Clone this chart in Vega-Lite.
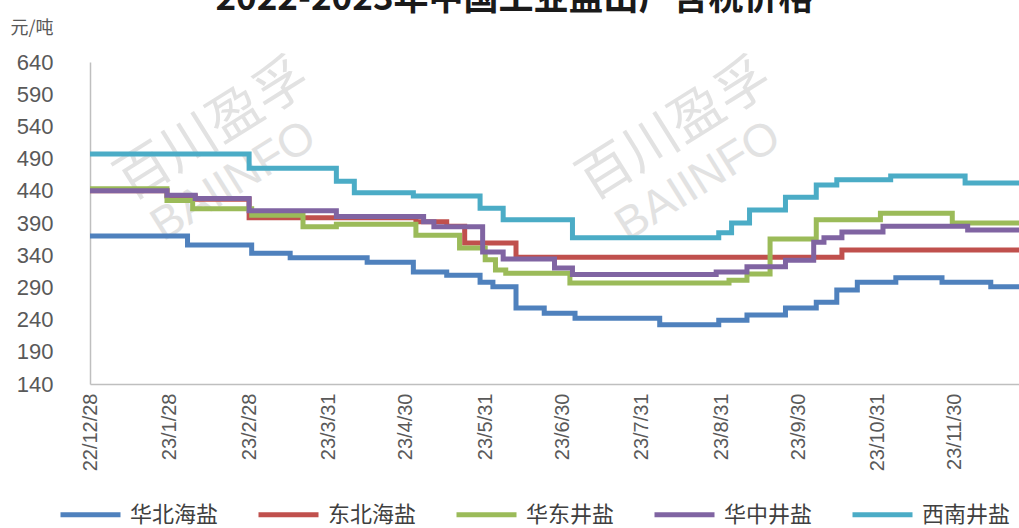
{
  "$schema": "https://vega.github.io/schema/vega-lite/v6.json",
  "width": 929,
  "height": 322,
  "autosize": "none",
  "padding": {"left": 90, "top": 62, "right": 0, "bottom": 144},
  "background": "white",
  "title": {"text": "2022-2023年中国工业盐出厂含税价格", "frame": "group", "anchor": "middle", "dx": -40, "offset": -26, "baseline": "alphabetic", "fontSize": 35, "font": "Noto Sans CJK SC", "fontWeight": "bold", "color": "#1a1a1a"},
  "config": {"view": {"stroke": null}},
  "encoding": {
    "x": {
      "field": "date", "type": "temporal",
      "scale": {"type": "utc", "nice": false, "domain": [{"year": 2022, "month": 12, "date": 28, "utc": true}, {"year": 2023, "month": 12, "date": 25, "utc": true}]},
      "axis": {
        "values": [
          {"year": 2022, "month": 12, "date": 28, "utc": true},
          {"year": 2023, "month": 1, "date": 28, "utc": true},
          {"year": 2023, "month": 2, "date": 28, "utc": true},
          {"year": 2023, "month": 3, "date": 31, "utc": true},
          {"year": 2023, "month": 4, "date": 30, "utc": true},
          {"year": 2023, "month": 5, "date": 31, "utc": true},
          {"year": 2023, "month": 6, "date": 30, "utc": true},
          {"year": 2023, "month": 7, "date": 31, "utc": true},
          {"year": 2023, "month": 8, "date": 31, "utc": true},
          {"year": 2023, "month": 9, "date": 30, "utc": true},
          {"year": 2023, "month": 10, "date": 31, "utc": true},
          {"year": 2023, "month": 11, "date": 30, "utc": true}
        ],
        "labelExpr": "utcFormat(datum.value, '%y/%-m/%-d')",
        "labelAngle": -90, "labelFont": "Liberation Sans", "labelFontSize": 20, "labelColor": "#595959",
        "labelPadding": 9, "ticks": false, "tickSize": 0, "grid": false,
        "domainColor": "#BFBFBF", "domainWidth": 1.5, "title": null,
        "labelFlush": false, "labelOverlap": false, "labelBound": false
      }
    },
    "y": {
      "field": "price", "type": "quantitative",
      "scale": {"domain": [140, 640], "nice": false, "zero": false},
      "axis": {
        "values": [140, 190, 240, 290, 340, 390, 440, 490, 540, 590, 640],
        "title": "元/吨", "titleAngle": 0, "titleX": -80, "titleY": -34, "titleAlign": "left", "titleBaseline": "middle",
        "titleFont": "Noto Sans CJK SC", "titleFontSize": 18, "titleFontWeight": "normal", "titleColor": "#595959",
        "labelFont": "Liberation Sans", "labelFontSize": 22, "labelColor": "#595959",
        "labelPadding": 37, "ticks": false, "tickSize": 0, "grid": false,
        "domainColor": "#BFBFBF", "domainWidth": 1.5, "labelFlush": false, "labelOverlap": false
      }
    }
  },
  "layer": [
    {
      "data": {"values": [
        {"date": "2023-02-14", "price": 534, "wm": "百川盈孚"},
        {"date": "2023-08-13", "price": 534, "wm": "百川盈孚"}
      ]},
      "mark": {"type": "text", "angle": -32, "font": "Noto Sans CJK SC", "fontSize": 54, "color": "#E2E2E2", "align": "center", "baseline": "middle"},
      "encoding": {"text": {"field": "wm"}}
    },
    {
      "data": {"values": [
        {"date": "2023-02-22", "price": 455, "wm": "BAIINFO"},
        {"date": "2023-08-22", "price": 455, "wm": "BAIINFO"}
      ]},
      "mark": {"type": "text", "angle": -32, "font": "Liberation Sans", "fontSize": 46, "color": "#E2E2E2", "align": "center", "baseline": "middle"},
      "encoding": {"text": {"field": "wm"}}
    },
    {
      "data": {"values": [
        {"date": "2022-12-28", "series": "华北海盐", "price": 370},
        {"date": "2023-02-04", "series": "华北海盐", "price": 356},
        {"date": "2023-03-01", "series": "华北海盐", "price": 343},
        {"date": "2023-03-16", "series": "华北海盐", "price": 336},
        {"date": "2023-04-15", "series": "华北海盐", "price": 329},
        {"date": "2023-05-03", "series": "华北海盐", "price": 314},
        {"date": "2023-05-16", "series": "华北海盐", "price": 309},
        {"date": "2023-05-29", "series": "华北海盐", "price": 298},
        {"date": "2023-06-03", "series": "华北海盐", "price": 291},
        {"date": "2023-06-12", "series": "华北海盐", "price": 258},
        {"date": "2023-06-23", "series": "华北海盐", "price": 250},
        {"date": "2023-07-05", "series": "华北海盐", "price": 242},
        {"date": "2023-08-07", "series": "华北海盐", "price": 232},
        {"date": "2023-08-30", "series": "华北海盐", "price": 239},
        {"date": "2023-09-10", "series": "华北海盐", "price": 247},
        {"date": "2023-09-25", "series": "华北海盐", "price": 258},
        {"date": "2023-10-07", "series": "华北海盐", "price": 267},
        {"date": "2023-10-15", "series": "华北海盐", "price": 286},
        {"date": "2023-10-23", "series": "华北海盐", "price": 298},
        {"date": "2023-11-07", "series": "华北海盐", "price": 305},
        {"date": "2023-11-25", "series": "华北海盐", "price": 298},
        {"date": "2023-12-14", "series": "华北海盐", "price": 291},
        {"date": "2023-12-25", "series": "华北海盐", "price": 291},
        {"date": "2022-12-28", "series": "东北海盐", "price": 440},
        {"date": "2023-01-27", "series": "东北海盐", "price": 432},
        {"date": "2023-02-07", "series": "东北海盐", "price": 427},
        {"date": "2023-02-28", "series": "东北海盐", "price": 398},
        {"date": "2023-05-04", "series": "东北海盐", "price": 392},
        {"date": "2023-05-16", "series": "东北海盐", "price": 385},
        {"date": "2023-05-23", "series": "东北海盐", "price": 359},
        {"date": "2023-06-12", "series": "东北海盐", "price": 337},
        {"date": "2023-10-17", "series": "东北海盐", "price": 348},
        {"date": "2023-12-25", "series": "东北海盐", "price": 348},
        {"date": "2022-12-28", "series": "华东井盐", "price": 443},
        {"date": "2023-01-27", "series": "华东井盐", "price": 425},
        {"date": "2023-02-06", "series": "华东井盐", "price": 412},
        {"date": "2023-03-01", "series": "华东井盐", "price": 402},
        {"date": "2023-03-21", "series": "华东井盐", "price": 384},
        {"date": "2023-04-03", "series": "华东井盐", "price": 388},
        {"date": "2023-05-04", "series": "华东井盐", "price": 371},
        {"date": "2023-05-21", "series": "华东井盐", "price": 351},
        {"date": "2023-05-31", "series": "华东井盐", "price": 333},
        {"date": "2023-06-04", "series": "华东井盐", "price": 317},
        {"date": "2023-06-08", "series": "华东井盐", "price": 312},
        {"date": "2023-07-03", "series": "华东井盐", "price": 297},
        {"date": "2023-09-03", "series": "华东井盐", "price": 301},
        {"date": "2023-09-10", "series": "华东井盐", "price": 311},
        {"date": "2023-09-19", "series": "华东井盐", "price": 365},
        {"date": "2023-10-07", "series": "华东井盐", "price": 395},
        {"date": "2023-11-01", "series": "华东井盐", "price": 405},
        {"date": "2023-11-29", "series": "华东井盐", "price": 390},
        {"date": "2023-12-25", "series": "华东井盐", "price": 390},
        {"date": "2022-12-28", "series": "华中井盐", "price": 440},
        {"date": "2023-01-27", "series": "华中井盐", "price": 433},
        {"date": "2023-02-07", "series": "华中井盐", "price": 428},
        {"date": "2023-02-28", "series": "华中井盐", "price": 409},
        {"date": "2023-04-03", "series": "华中井盐", "price": 400},
        {"date": "2023-05-07", "series": "华中井盐", "price": 392},
        {"date": "2023-05-11", "series": "华中井盐", "price": 384},
        {"date": "2023-05-30", "series": "华中井盐", "price": 345},
        {"date": "2023-06-07", "series": "华中井盐", "price": 334},
        {"date": "2023-06-27", "series": "华中井盐", "price": 320},
        {"date": "2023-07-04", "series": "华中井盐", "price": 310},
        {"date": "2023-08-29", "series": "华中井盐", "price": 314},
        {"date": "2023-09-10", "series": "华中井盐", "price": 322},
        {"date": "2023-09-25", "series": "华中井盐", "price": 332},
        {"date": "2023-10-06", "series": "华中井盐", "price": 360},
        {"date": "2023-10-10", "series": "华中井盐", "price": 367},
        {"date": "2023-10-17", "series": "华中井盐", "price": 376},
        {"date": "2023-11-02", "series": "华中井盐", "price": 385},
        {"date": "2023-12-05", "series": "华中井盐", "price": 379},
        {"date": "2023-12-25", "series": "华中井盐", "price": 379},
        {"date": "2022-12-28", "series": "西南井盐", "price": 497},
        {"date": "2023-02-28", "series": "西南井盐", "price": 475},
        {"date": "2023-04-03", "series": "西南井盐", "price": 455},
        {"date": "2023-04-10", "series": "西南井盐", "price": 437},
        {"date": "2023-05-03", "series": "西南井盐", "price": 432},
        {"date": "2023-05-29", "series": "西南井盐", "price": 413},
        {"date": "2023-06-07", "series": "西南井盐", "price": 395},
        {"date": "2023-07-04", "series": "西南井盐", "price": 367},
        {"date": "2023-08-30", "series": "西南井盐", "price": 375},
        {"date": "2023-09-04", "series": "西南井盐", "price": 390},
        {"date": "2023-09-11", "series": "西南井盐", "price": 410},
        {"date": "2023-09-25", "series": "西南井盐", "price": 430},
        {"date": "2023-10-07", "series": "西南井盐", "price": 449},
        {"date": "2023-10-15", "series": "西南井盐", "price": 457},
        {"date": "2023-11-05", "series": "西南井盐", "price": 463},
        {"date": "2023-12-04", "series": "西南井盐", "price": 452},
        {"date": "2023-12-25", "series": "西南井盐", "price": 452}
      ]},
      "mark": {"type": "line", "interpolate": "step-after", "strokeWidth": 5, "clip": true},
      "encoding": {
        "color": {
          "field": "series", "type": "nominal",
          "scale": {"domain": ["华北海盐", "东北海盐", "华东井盐", "华中井盐", "西南井盐"], "range": ["#4F81BD", "#C0504D", "#9BBB59", "#8064A2", "#4BACC6"]},
          "legend": {
            "orient": "none", "legendX": -32, "legendY": 420, "direction": "horizontal", "title": null,
            "symbolType": "stroke", "symbolSize": 3600, "symbolStrokeWidth": 5,
            "labelFont": "Noto Sans CJK SC", "labelFontSize": 22, "labelColor": "#404040",
            "labelOffset": 7, "columnPadding": 29, "labelLimit": 0, "padding": 0
          }
        }
      }
    }
  ]
}
